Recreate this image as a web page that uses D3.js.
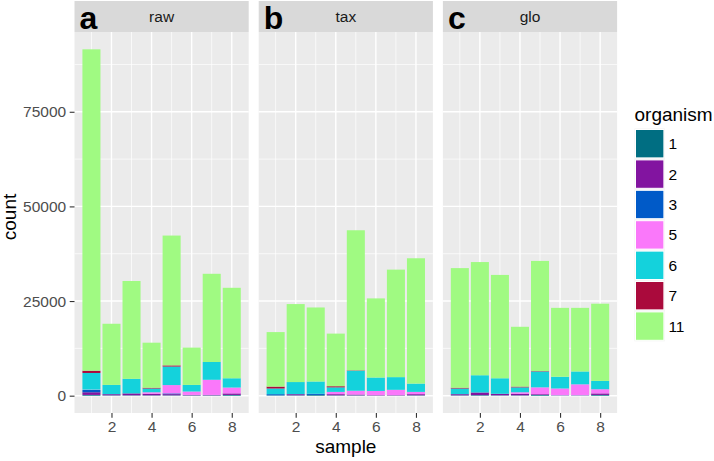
<!DOCTYPE html>
<html><head><meta charset="utf-8">
<script src="https://cdn.jsdelivr.net/npm/d3@7"></script>
<style>body{margin:0;background:#fff;}svg{display:block;font-family:"Liberation Sans",Arial,sans-serif;}</style>
</head><body><svg id="c" width="714" height="461"></svg>
<script>
const samples = [1,2,3,4,5,6,7,8];
const facets = ["raw","tax","glo"];
const letters = ["a","b","c"];
const organisms = ["1","2","3","5","6","7","11"];
const colors = ["#006E82","#8214A0","#005AC8","#FA78FA","#14D2DC","#AA0A3C","#A0FA82"];
const yTicks = [0,25000,50000,75000];
const xTicks = [2,4,6,8];

// raw
const raw_1  = [200,100,100,100,100,100,100,200];
const raw_2  = [700,300,500,400,300,100,100,400];
const raw_3  = [600,0,0,0,200,0,0,0];
const raw_5  = [100,0,0,400,2200,900,4000,1550];
const raw_6  = [4400,2450,3850,1000,4900,1750,4700,2450];
const raw_7  = [600,0,0,200,300,0,0,0];
const raw_11 = [84900,16150,25850,11900,34300,9850,23300,23900];
// tax
const tax_1  = [100,100,200,100,100,50,50,100];
const tax_2  = [0,300,0,300,200,100,100,300];
const tax_3  = [300,0,300,0,0,0,0,0];
const tax_5  = [0,0,0,600,1000,1100,1400,600];
const tax_6  = [1500,3200,3250,1200,5300,3550,3350,2200];
const tax_7  = [500,0,0,300,100,0,0,0];
const tax_11 = [14400,20600,19550,13900,37000,20900,28400,33100];
// glo
const glo_1  = [100,150,100,100,200,100,100,200];
const glo_2  = [300,700,400,400,200,0,0,400];
const glo_3  = [0,0,0,0,0,0,0,0];
const glo_5  = [0,0,0,400,1800,1800,2900,1100];
const glo_6  = [1500,4550,4100,1300,4200,3100,3400,2200];
const glo_7  = [200,0,0,200,100,0,0,0];
const glo_11 = [31600,29900,27300,15800,29100,18200,16800,20400];

const facetSeries = {
  raw: [raw_1,raw_2,raw_3,raw_5,raw_6,raw_7,raw_11],
  tax: [tax_1,tax_2,tax_3,tax_5,tax_6,tax_7,tax_11],
  glo: [glo_1,glo_2,glo_3,glo_5,glo_6,glo_7,glo_11]
};

const svg = d3.select("#c");
const panelLefts = [74.5, 258.7, 442.9];
const panelW = 174.2;
const stripTop = 1, stripBot = 32, panelBot = 413;

const color = d3.scaleOrdinal().domain(organisms).range(colors);

// stacked data
const stacks = {};
let maxTot = 0;
facets.forEach(f => {
  const rows = samples.map((s,i) => {
    const r = {sample:s};
    organisms.forEach((o,k) => r[o] = facetSeries[f][k][i]);
    return r;
  });
  stacks[f] = d3.stack().keys(organisms)(rows);
  rows.forEach(r => { const t = d3.sum(organisms, o => r[o]); if (t>maxTot) maxTot=t; });
});

const y = d3.scaleLinear().domain([-0.05*maxTot, 1.05*maxTot]).range([panelBot, stripBot]);
const bw = 0.9;
const xlo = 1 - bw/2, xhi = 8 + bw/2, xpad = 0.05*(xhi-xlo);

facets.forEach((f, fi) => {
  const L = panelLefts[fi];
  const x = d3.scaleLinear().domain([xlo - xpad, xhi + xpad]).range([L, L+panelW]);
  const g = svg.append("g");
  // panel bg
  g.append("rect").attr("x",L).attr("y",stripBot).attr("width",panelW).attr("height",panelBot-stripBot).attr("fill","#EBEBEB");
  // minor grid
  [12500,37500,62500,87500].forEach(v => g.append("line").attr("x1",L).attr("x2",L+panelW).attr("y1",y(v)).attr("y2",y(v)).attr("stroke","#fff").attr("stroke-width",0.7));
  [1,3,5,7].forEach(v => g.append("line").attr("y1",stripBot).attr("y2",panelBot).attr("x1",x(v)).attr("x2",x(v)).attr("stroke","#fff").attr("stroke-width",0.7));
  // major grid
  yTicks.forEach(v => g.append("line").attr("x1",L).attr("x2",L+panelW).attr("y1",y(v)).attr("y2",y(v)).attr("stroke","#fff").attr("stroke-width",1.4));
  xTicks.forEach(v => g.append("line").attr("y1",stripBot).attr("y2",panelBot).attr("x1",x(v)).attr("x2",x(v)).attr("stroke","#fff").attr("stroke-width",1.4));
  // bars
  stacks[f].forEach(layer => {
    g.append("g").attr("fill", color(layer.key)).selectAll("rect").data(layer).join("rect")
      .attr("x", d => x(d.data.sample - bw/2))
      .attr("width", d => x(d.data.sample + bw/2) - x(d.data.sample - bw/2))
      .attr("y", d => y(d[1]))
      .attr("height", d => Math.max(0, y(d[0]) - y(d[1])));
  });
  // strip
  g.append("rect").attr("x",L).attr("y",stripTop).attr("width",panelW).attr("height",stripBot-stripTop).attr("fill","#D9D9D9");
  g.append("text").attr("x",L+panelW/2).attr("y",(stripTop+stripBot)/2+5.5).attr("text-anchor","middle")
    .attr("font-size",15.5).attr("fill","#1A1A1A").text(f);
  g.append("text").attr("x",L+5).attr("y",29).attr("font-size",32).attr("font-weight","bold").attr("fill","#000").text(letters[fi]);
  // x axis
  const xa = g.append("g").attr("transform",`translate(0,${panelBot})`)
    .call(d3.axisBottom(x).tickValues(xTicks).tickFormat(d3.format("d")).tickSize(4.8).tickPadding(3.5));
  xa.select(".domain").remove();
  xa.selectAll("line").attr("stroke","#333333").attr("stroke-width",1.1);
  xa.selectAll("text").attr("font-size",15.5).attr("fill","#4D4D4D").attr("font-family","Liberation Sans, Arial, sans-serif");
  if (fi===0) {
    const ya = g.append("g").attr("transform",`translate(${L},0)`)
      .call(d3.axisLeft(y).tickValues(yTicks).tickFormat(d3.format("d")).tickSize(4.8).tickPadding(3.5));
    ya.select(".domain").remove();
    ya.selectAll("line").attr("stroke","#333333").attr("stroke-width",1.1);
    ya.selectAll("text").attr("font-size",15.5).attr("fill","#4D4D4D").attr("font-family","Liberation Sans, Arial, sans-serif");
  }
});

// axis titles
svg.append("text").attr("x",(panelLefts[0]+panelLefts[2]+panelW)/2).attr("y",453).attr("text-anchor","middle")
  .attr("font-size",19).attr("fill","#000").text("sample");
svg.append("text").attr("transform","translate(16,217) rotate(-90)").attr("text-anchor","middle")
  .attr("font-size",19).attr("fill","#000").text("count");

// legend
const lg = svg.append("g");
const keyTop = 128.5, keyH = 30.4, keyX = 634.5;
lg.append("text").attr("x",keyX).attr("y",keyTop-8).attr("font-size",19).attr("fill","#000").text("organism");
organisms.forEach((o,i) => {
  lg.append("rect").attr("x",keyX).attr("y",keyTop+i*keyH).attr("width",keyH).attr("height",keyH).attr("fill","#F2F2F2");
  lg.append("rect").attr("x",keyX+1).attr("y",keyTop+i*keyH+1).attr("width",keyH-2).attr("height",keyH-2).attr("fill",color(o)).attr("stroke","#fff").attr("stroke-width",1);
  lg.append("text").attr("x",keyX+keyH+3.5).attr("y",keyTop+i*keyH+keyH/2+5.5).attr("font-size",15.5).attr("fill","#000").text(o);
});
</script></body></html>
